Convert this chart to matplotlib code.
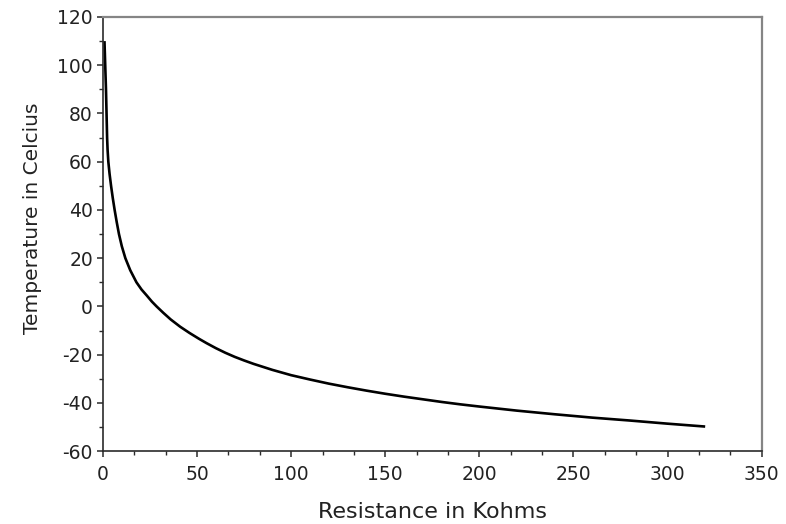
import matplotlib
matplotlib.use("Agg")
import matplotlib.pyplot as plt
from matplotlib.ticker import MultipleLocator

resistance_kohm = [0.8, 1.0, 1.2, 1.4, 1.6, 1.75, 1.9, 2.05, 2.2, 2.45, 2.85, 3.5, 4.3, 5.2, 6.2,
                   7.3, 8.5, 10, 11.9, 14.5, 17.8, 20.5, 23.3, 26, 28.5, 32, 36, 41, 46, 51, 55, 60, 65,
                   70, 75, 80, 90, 100, 110, 120, 130, 140, 150, 160, 170, 180, 190, 200,
                   220, 240, 260, 280, 300, 320]
temperature_c = [110, 105, 100, 95, 90, 85, 80, 75, 70, 65, 60, 55, 50, 45, 40,
                 35, 30, 25, 20, 15, 10, 7, 4.5, 2, 0, -2.6, -5.4, -8.4, -11, -13.4, -15.2, -17.3, -19.2,
                 -20.9, -22.4, -23.8, -26.3, -28.5, -30.3, -32, -33.5, -34.9, -36.2, -37.4, -38.5, -39.6, -40.6, -41.5,
                 -43.2, -44.7, -46.1, -47.3, -48.6, -49.8]

plt.rcParams['font.family'] = ['DejaVu Sans']
plt.rcParams['axes.unicode_minus'] = False

fig = plt.figure(figsize=(7.86, 5.24), dpi=100)
ax = fig.add_axes([0.131, 0.139, 0.838, 0.8286])
ax.plot(resistance_kohm, temperature_c, color='black', lw=1.9, solid_capstyle='butt',
        solid_joinstyle='round')

ax.set_xlim(0, 350)
ax.set_ylim(-60, 120)
ax.xaxis.set_major_locator(MultipleLocator(50))
ax.xaxis.set_minor_locator(MultipleLocator(50 / 3))
ax.yaxis.set_major_locator(MultipleLocator(20))
ax.yaxis.set_minor_locator(MultipleLocator(10))

for s in ['top', 'right']:
    ax.spines[s].set_color('#858585')
    ax.spines[s].set_linewidth(1.6)
for s in ['left', 'bottom']:
    ax.spines[s].set_color('#2a2a2a')
    ax.spines[s].set_linewidth(1.2)

ax.tick_params(which='major', direction='out', length=4.5, width=1.1, labelsize=13.5,
               colors='#2a2a2a', labelcolor='#222222')
ax.tick_params(axis='y', which='major', pad=2.7)
ax.tick_params(axis='x', which='major', pad=5.5)
ax.tick_params(which='minor', direction='out', length=3, width=1.0, colors='#2a2a2a')
ax.tick_params(axis='x', which='both', top=False)
ax.tick_params(axis='y', which='both', right=False)

ax.set_xlabel('Resistance in Kohms', fontsize=16, labelpad=13, color='#222222')
ax.set_ylabel('Temperature in Celcius', fontsize=14.5, color='#222222')
ax.yaxis.set_label_coords(-0.093, 0.537)

fig.savefig('out.png', dpi=100)
